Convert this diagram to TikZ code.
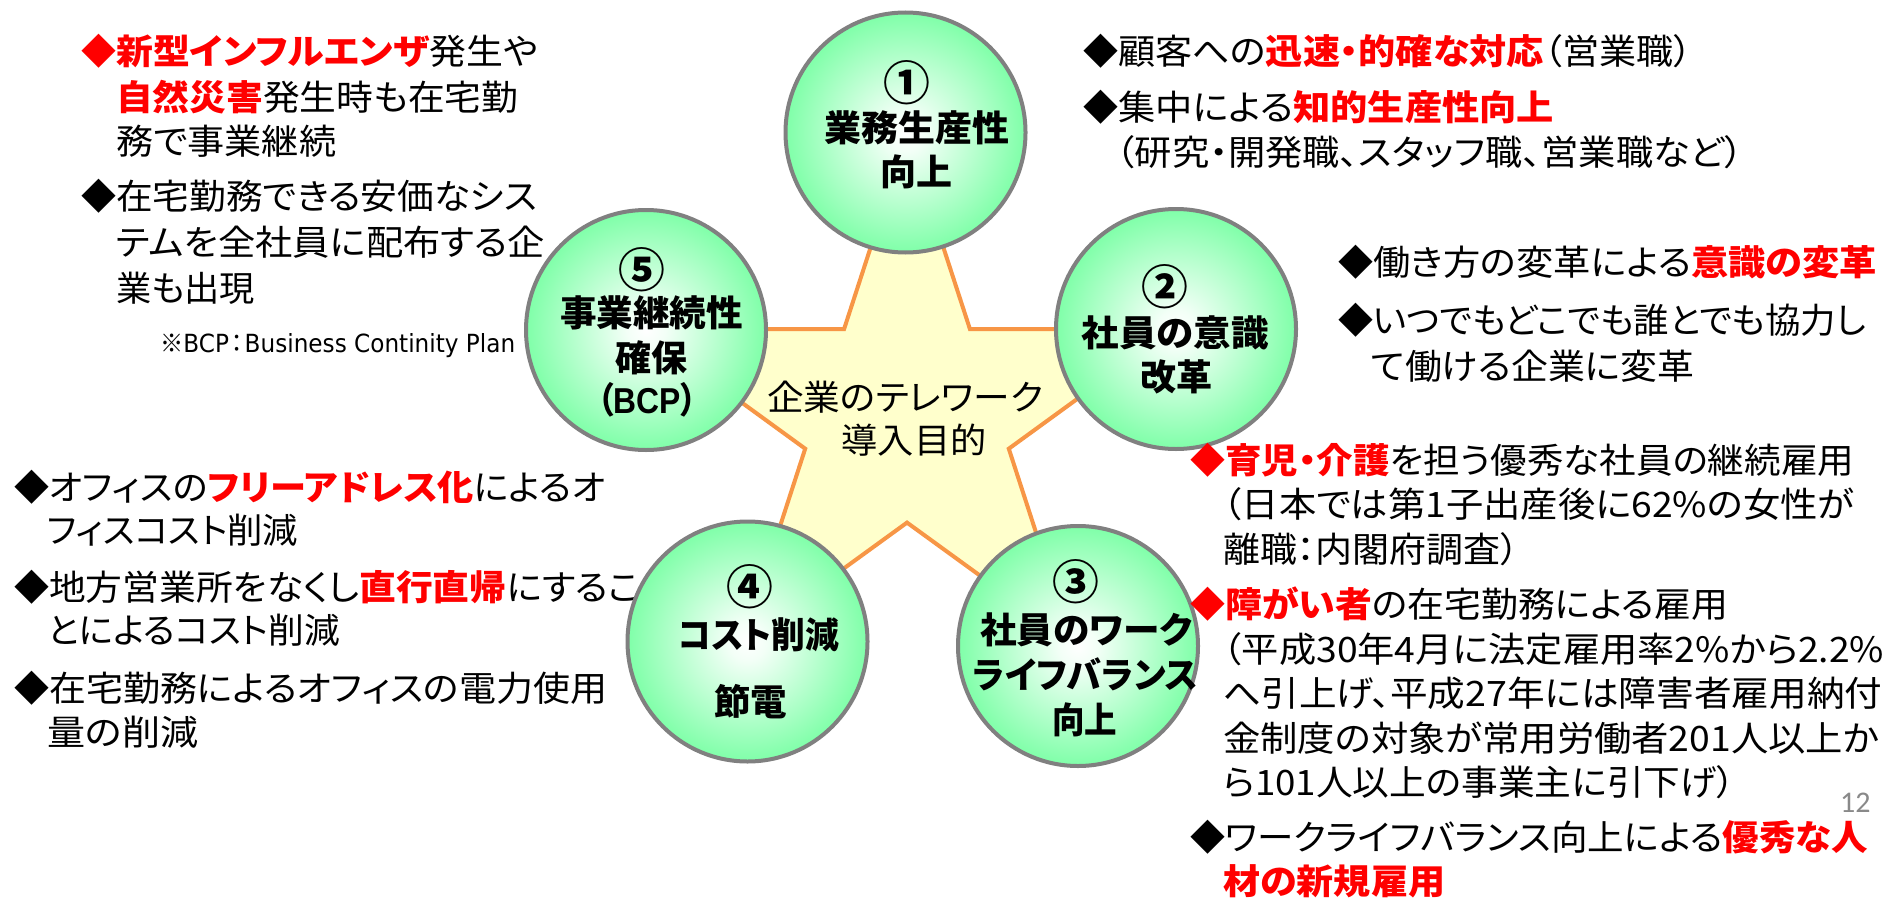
\documentclass[tikz,border=0pt]{standalone}
\usepackage{fontspec}
\usepackage{graphicx}
\setmainfont{Noto Sans CJK JP}[RawFeature=+palt]
\newfontfamily\jpplain{Noto Sans CJK JP}
\newfontfamily\latinfont{DejaVu Sans}
\newfontfamily\arialfont{Liberation Sans}
\newfontfamily\pgnumfont{Carlito}
\definecolor{ballgreen}{RGB}{100,255,150}
\definecolor{ballgray}{RGB}{128,128,128}
\definecolor{staryellow}{RGB}{255,255,204}
\definecolor{starorange}{RGB}{247,150,70}
\definecolor{hired}{RGB}{255,0,0}
\definecolor{pggray}{RGB}{137,137,137}
\pgfdeclareradialshading{ballshade}{\pgfpoint{0bp}{0bp}}{color(0bp)=(white); color(4bp)=(white!92!ballgreen); color(30bp)=(ballgreen); color(50bp)=(ballgreen)}
\newcommand{\fitw}[2]{\resizebox{#1pt}{\height}{#2}}
\newcommand{\redhl}[1]{\textcolor{hired}{\bfseries #1}}
\newcommand{\reddia}{\textcolor{hired}{◆}}
\tikzset{
  sidetxt/.style={anchor=base west, inner sep=0pt, yshift=-13.3pt, font=\fontsize{35}{42}\selectfont},
  balltxt/.style={anchor=base, inner sep=0pt, yshift=-13.7pt, font=\fontsize{36}{43}\selectfont\bfseries},
  numtxt/.style={anchor=center, inner sep=0pt, font=\fontsize{36}{43}\selectfont\bfseries},
  startxt/.style={anchor=base, inner sep=0pt, yshift=-13.3pt, font=\fontsize{35}{42}\selectfont},
  notetxt/.style={anchor=base west, inner sep=0pt, yshift=-9pt, font=\jpplain\fontsize{25}{30}\selectfont},
  pgnum/.style={anchor=base west, inner sep=0pt, yshift=-9.5pt, text=pggray, font=\pgnumfont\fontsize{30}{36}\selectfont},
  ball/.style={circle, draw=ballgray, line width=4pt, minimum size=240pt, inner sep=0pt, shade, shading=ballshade},
  starline/.style={draw=starorange, fill=staryellow, line width=4pt, line join=miter},
}
\newcommand{\bignum}[1]{\scalebox{1.3}{#1}}
\begin{document}
\begin{tikzpicture}[x=1pt,y=-1pt]
\fill[white] (0,0) rectangle (1890,899);
\useasboundingbox (0,0) rectangle (1890,899);

% ---- bottom-left text (drawn behind the circles)
\node[sidetxt] (bl1) at (14,487) {◆\fitw{556}{オフィスの\redhl{フリーアドレス化}によるオ}};
\node[sidetxt] (bl2) at (47,530) {\fitw{251}{フィスコスト削減}};
\node[sidetxt] (bl3) at (14,587) {◆\fitw{591}{地方営業所をなくし\redhl{直行直帰}にするこ}};
\node[sidetxt] (bl4) at (47,630) {\fitw{293}{とによるコスト削減}};
\node[sidetxt] (bl5) at (14,688) {◆\fitw{558}{在宅勤務によるオフィスの電力使用}};
\node[sidetxt] (bl6) at (47,732) {\fitw{151}{量の削減}};

% ---- star
\coordinate (so1) at (907,135.6);
\coordinate (si1) at (969.9,329.0);
\coordinate (so2) at (1173.3,329.1);
\coordinate (si2) at (1008.8,448.7);
\coordinate (so3) at (1071.6,642.1);
\coordinate (si3) at (907,522.6);
\coordinate (so4) at (742.4,642.1);
\coordinate (si4) at (805.2,448.7);
\coordinate (so5) at (640.7,329.1);
\coordinate (si5) at (844.1,329.0);
\path[starline] (so1) -- (si1) -- (so2) -- (si2) -- (so3) -- (si3) -- (so4) -- (si4) -- (so5) -- (si5) -- cycle;
\node[startxt] (st1) at (905,397) {\fitw{276}{企業のテレワーク}};
\node[startxt] (st2) at (914,440) {\fitw{145}{導入目的}};

% ---- circles
\node[ball] (c1) at (905.5,132.5) {};
\node[ball] (c2) at (1176,329) {};
\node[ball] (c3) at (1078,646) {};
\node[ball] (c4) at (747.5,641.5) {};
\node[ball] (c5) at (646,330) {};

% circle texts
\node[numtxt] (c1n) at (907,83) {\bignum{①}};
\node[balltxt] (c1a) at (917,128) {\fitw{185}{業務生産性}};
\node[balltxt] (c1b) at (916,172) {\fitw{72}{向上}};

\node[numtxt] (c2n) at (1165,287) {\bignum{②}};
\node[balltxt] (c2a) at (1175,333) {\fitw{187}{社員の意識}};
\node[balltxt] (c2b) at (1176,377) {\fitw{72}{改革}};

\node[numtxt] (c3n) at (1076,582) {\bignum{③}};
\node[balltxt] (c3a) at (1086,630) {\fitw{212}{社員のワーク}};
\node[balltxt] (c3b) at (1085.5,675) {\fitw{225}{ライフバランス}};
\node[balltxt] (c3c) at (1084.5,720) {\fitw{65}{向上}};

\node[numtxt] (c4n) at (750,587) {\bignum{④}};
\node[balltxt] (c4a) at (759,635) {\fitw{161}{コスト削減}};
\node[balltxt] (c4b) at (750.5,702) {\fitw{73}{節電}};

\node[numtxt] (c5n) at (642,270) {\bignum{⑤}};
\node[balltxt] (c5a) at (651.5,313) {\fitw{183}{事業継続性}};
\node[balltxt] (c5b) at (651,358) {\fitw{72}{確保}};
\node[balltxt] (c5c) at (647.5,400) {\fitw{99}{（{\arialfont\bfseries BCP}）}};

% ---- top-left text
\node[sidetxt] (tl1) at (81,51) {\reddia\fitw{422}{\redhl{新型インフルエンザ}発生や}};
\node[sidetxt] (tl2) at (116,97) {\fitw{402}{\redhl{自然災害}発生時も在宅勤}};
\node[sidetxt] (tl3) at (116,141) {\fitw{220}{務で事業継続}};
\node[sidetxt] (tl4) at (81,196) {◆\fitw{421}{在宅勤務できる安価なシス}};
\node[sidetxt] (tl5) at (116,242) {\fitw{429}{テムを全社員に配布する企}};
\node[sidetxt] (tl6) at (116,288) {\fitw{139}{業も出現}};
\node[notetxt] (bcp) at (160,343) {\fitw{355}{※{\latinfont BCP}\hspace{-4pt}：\hspace{-4pt}{\latinfont Business Continity Plan}}};

% ---- top-right text
\node[sidetxt] (tr1) at (1083,51) {◆\fitw{574}{顧客への\redhl{迅速・的確な対応}（営業職）}};
\node[sidetxt] (tr2) at (1083,107) {◆\fitw{436}{集中による\redhl{知的生産性向上}}};
\node[sidetxt] (tr3) at (1116,152) {\fitw{627}{（研究・開発職、スタッフ職、営業職など）}};

% ---- right (circle 2) text
\node[sidetxt] (r21) at (1338,262) {◆\fitw{504}{働き方の変革による\redhl{意識の変革}}};
\node[sidetxt] (r22) at (1338,320) {◆\fitw{493}{いつでもどこでも誰とでも協力し}};
\node[sidetxt] (r23) at (1371,366) {\fitw{323}{て働ける企業に変革}};

% ---- right (circle 3) text
\node[sidetxt] (r31) at (1190,460) {\reddia\fitw{629}{\redhl{育児・介護}を担う優秀な社員の継続雇用}};
\node[sidetxt] (r32) at (1223,504) {\fitw{631}{（日本では第1子出産後に62\%の女性が}};
\node[sidetxt] (r33) at (1223,549) {\fitw{296}{離職：内閣府調査）}};
\node[sidetxt] (r34) at (1190,604) {\reddia\fitw{503}{\redhl{障がい者}の在宅勤務による雇用}};
\node[sidetxt] (r35) at (1223,649) {\fitw{661}{（平成30年4月に法定雇用率2\%から2.2\%}};
\node[sidetxt] (r36) at (1223,693) {\fitw{659}{へ引上げ、平成27年には障害者雇用納付}};
\node[sidetxt] (r37) at (1223,738) {\fitw{656}{金制度の対象が常用労働者201人以上か}};
\node[sidetxt] (r38) at (1223,782) {\fitw{512}{ら101人以上の事業主に引下げ）}};
\node[pgnum] (pg) at (1840,803) {12};
\node[sidetxt] (r39) at (1190,837) {◆\fitw{643}{ワークライフバランス向上による\redhl{優秀な人}}};
\node[sidetxt] (r310) at (1223,881) {\fitw{222}{\redhl{材の新規雇用}}};
\end{tikzpicture}
\end{document}
